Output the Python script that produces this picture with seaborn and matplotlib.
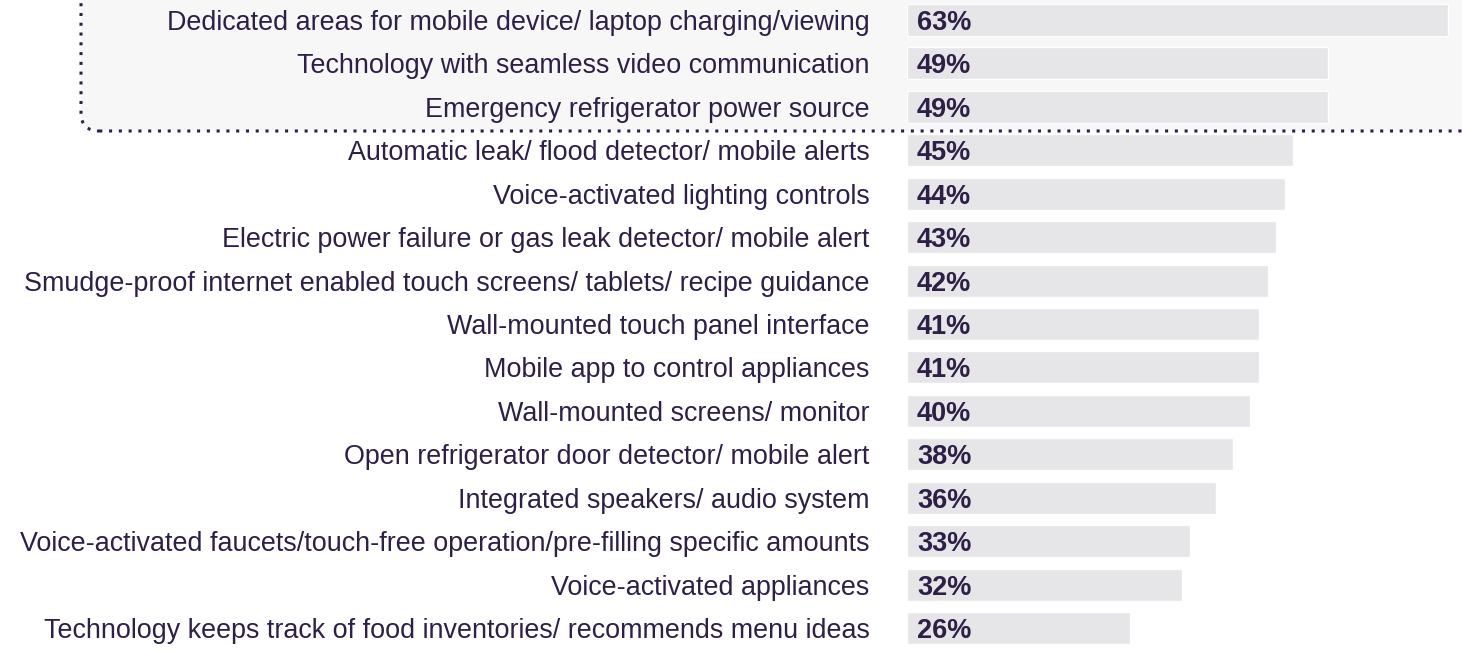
import numpy as np
import pandas as pd
import seaborn as sns
import matplotlib.pyplot as plt
from matplotlib.patches import FancyBboxPatch

features = [
    "Dedicated areas for mobile device/ laptop charging/viewing",
    "Technology with seamless video communication",
    "Emergency refrigerator power source",
    "Automatic leak/ flood detector/ mobile alerts",
    "Voice-activated lighting controls",
    "Electric power failure or gas leak detector/ mobile alert",
    "Smudge-proof internet enabled touch screens/ tablets/ recipe guidance",
    "Wall-mounted touch panel interface",
    "Mobile app to control appliances",
    "Wall-mounted screens/ monitor",
    "Open refrigerator door detector/ mobile alert",
    "Integrated speakers/ audio system",
    "Voice-activated faucets/touch-free operation/pre-filling specific amounts",
    "Voice-activated appliances",
    "Technology keeps track of food inventories/ recommends menu ideas",
]
pct = [63, 49, 49, 45, 44, 43, 42, 41, 41, 40, 38, 36, 33, 32, 26]

df = pd.DataFrame({"feature": features, "pct": pct})

sns.set_style("white")
plt.rcParams["font.family"] = ["Liberation Sans", "DejaVu Sans"]
txt = "#2e1f47"

W, H = 1462, 651
fig = plt.figure(figsize=(W / 100, H / 100), dpi=100)

# highlighted box behind the top three rows
box = FancyBboxPatch((81 / W, 1 - 131 / H), (1480 - 81) / W, 200 / H,
                     boxstyle="round,pad=0,rounding_size=0.0125",
                     transform=fig.transFigure, facecolor="#f7f7f7",
                     edgecolor=txt, linestyle=(0, (1, 2.2)), linewidth=2.2,
                     mutation_aspect=W / H, zorder=-1, clip_on=False)
fig.patches.append(box)

x0 = 907
ax = fig.add_axes([x0 / W, 0, (W - x0) / W, 1])
ax.set_zorder(1)
ax.patch.set_visible(False)
sns.barplot(data=df, x="pct", y="feature", orient="h", color="#e6e6e8",
            saturation=1, width=0.74, ax=ax)
ppx = (1448 - x0) / 63.0
ax.set_xlim(0, (W - x0) / ppx)
row = (628 - 20) / 14.0
ax.set_ylim((H - 20) / row, -20 / row)

for i, v in enumerate(pct):
    ax.text(10 / ppx, i, f"{v}%", va="center_baseline", ha="left",
            fontsize=19.5, fontweight="bold", color=txt)

ax.set_xlabel("")
ax.set_ylabel("")
ax.set_xticks([])
ax.tick_params(axis="y", length=0, pad=27, labelsize=19.4, labelcolor=txt)
sns.despine(ax=ax, left=True, bottom=True)

fig.savefig("out.png", dpi=100)
